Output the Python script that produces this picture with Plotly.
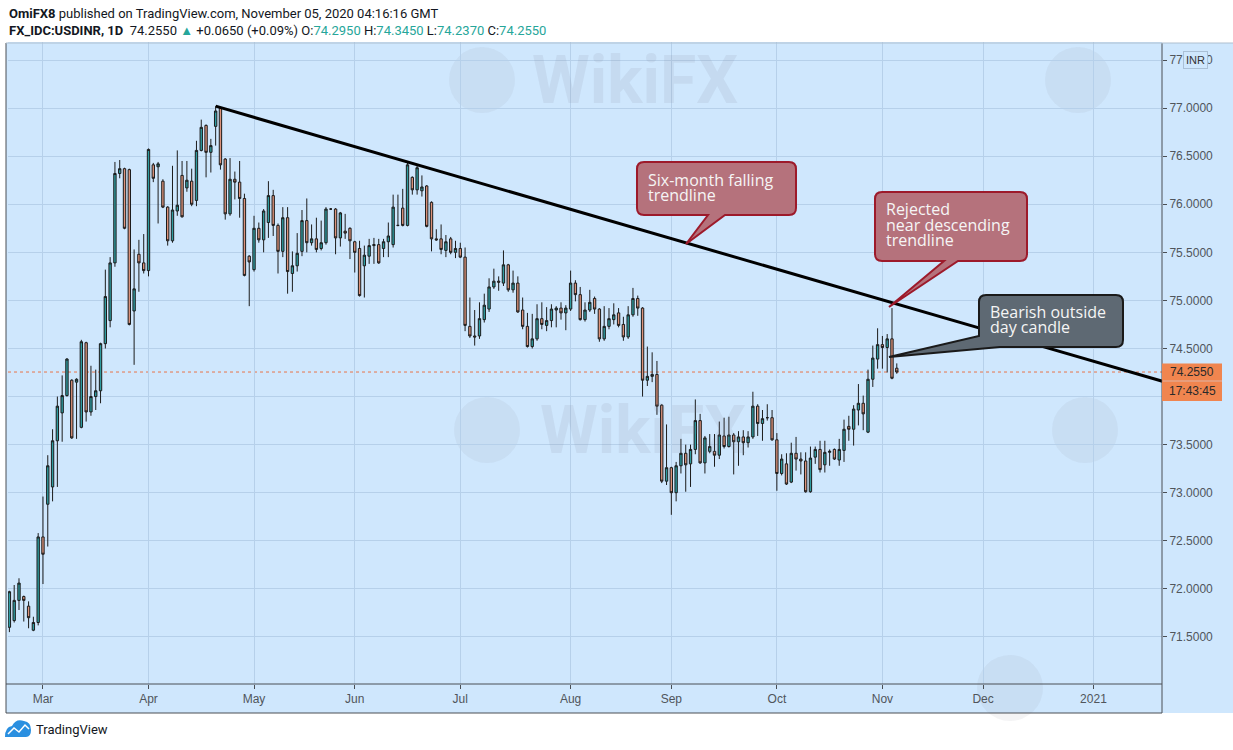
import pandas as pd
import plotly.graph_objects as go

# ---------------- data ----------------
dates = pd.bdate_range("2020-02-20", "2020-11-05")

opens = [71.60, 71.67, 71.88, 71.92, 71.82, 71.57, 71.65, 72.54, 72.88, 73.06,
         73.54, 73.83, 74.01, 74.17, 74.15, 73.68, 74.56, 73.84, 74.00, 74.06,
         74.55, 74.79, 75.39, 76.32, 76.37, 76.36, 74.89, 75.48, 75.39, 75.31,
         76.41, 76.39, 76.24, 75.97, 75.62, 75.93, 76.30, 76.17, 76.24, 76.04,
         76.56, 76.82, 76.54, 76.81, 77.00, 76.47, 75.90, 76.26, 76.23, 76.06,
         75.46, 75.32, 75.75, 75.63, 75.81, 76.09, 75.78, 75.51, 75.86, 75.28,
         75.36, 75.51, 75.83, 75.60, 75.64, 75.54, 75.60, 75.95, 75.95, 75.65,
         75.72, 75.75, 75.61, 75.54, 75.36, 75.46, 75.57, 75.58, 75.54, 75.61,
         75.58, 75.78, 75.96, 75.78, 76.28, 76.15, 76.14, 76.19, 76.02, 75.64,
         75.64, 75.52, 75.64, 75.50, 75.54, 75.45, 74.73, 74.63, 74.63, 74.80,
         74.91, 75.14, 75.20, 75.18, 75.37, 75.11, 75.18, 74.90, 74.73, 74.52,
         74.60, 74.81, 74.74, 74.79, 74.90, 74.92, 74.87, 74.91, 75.18, 75.06,
         74.80, 74.90, 75.02, 74.91, 74.60, 74.73, 74.80, 74.87, 74.75, 74.62,
         74.85, 75.02, 74.92, 74.17, 74.21, 74.23, 73.91, 73.12, 73.26, 73.00,
         73.28, 73.41, 73.30, 73.45, 73.75, 73.31, 73.43, 73.43, 73.39, 73.59,
         73.48, 73.60, 73.53, 73.58, 73.52, 73.58, 73.90, 73.72, 73.78, 73.78,
         73.55, 73.20, 73.30, 73.11, 73.41, 73.35, 73.33, 73.01, 73.37, 73.45,
         73.29, 73.42, 73.45, 73.34, 73.44, 73.69, 73.66, 73.86, 73.93, 73.63,
         74.18, 74.39, 74.54, 74.51, 74.60, 74.295]
highs = [71.98, 72.04, 72.11, 71.93, 71.87, 71.71, 72.58, 72.96, 73.39, 73.66,
         74.00, 74.22, 74.40, 74.18, 74.19, 74.59, 74.57, 74.32, 74.28, 74.56,
         75.32, 75.45, 76.44, 76.46, 76.38, 76.37, 75.53, 75.63, 75.69, 76.58,
         76.43, 76.44, 76.26, 75.98, 76.40, 76.56, 76.45, 76.45, 76.37, 76.66,
         76.88, 76.83, 76.68, 77.02, 77.01, 76.48, 76.48, 76.34, 76.45, 76.11,
         75.47, 75.88, 75.81, 75.95, 76.24, 76.15, 75.80, 75.97, 75.97, 75.51,
         75.70, 75.94, 76.06, 75.79, 75.86, 75.83, 75.97, 75.96, 75.96, 75.92,
         75.90, 75.76, 75.62, 75.62, 75.57, 75.64, 75.65, 75.64, 75.64, 75.81,
         76.10, 76.10, 76.16, 76.43, 76.29, 76.40, 76.30, 76.20, 76.03, 75.74,
         75.79, 75.68, 75.66, 75.62, 75.60, 75.55, 75.03, 74.90, 74.98, 75.07,
         75.23, 75.33, 75.25, 75.52, 75.38, 75.31, 75.25, 75.03, 74.87, 74.86,
         74.96, 74.98, 74.93, 74.96, 74.94, 74.98, 74.95, 75.31, 75.21, 75.14,
         74.98, 75.11, 75.04, 74.92, 74.94, 74.92, 74.97, 74.92, 74.83, 74.94,
         75.13, 75.05, 74.93, 74.52, 74.46, 74.37, 73.92, 73.71, 73.27, 73.32,
         73.56, 73.50, 73.50, 73.97, 73.82, 73.59, 73.61, 73.61, 73.74, 73.78,
         73.79, 73.62, 73.64, 73.65, 73.64, 74.05, 73.92, 73.86, 73.92, 73.86,
         73.62, 73.40, 73.41, 73.52, 73.58, 73.42, 73.42, 73.48, 73.48, 73.54,
         73.54, 73.45, 73.46, 73.56, 73.76, 73.80, 73.91, 74.13, 74.01, 74.28,
         74.53, 74.71, 74.63, 74.65, 74.92, 74.345]
lows = [71.55, 71.65, 71.78, 71.66, 71.59, 71.56, 71.62, 72.05, 72.44, 72.91,
        73.06, 73.53, 74.00, 73.56, 73.56, 73.67, 73.74, 73.80, 73.86, 73.93,
        74.50, 74.72, 75.35, 76.27, 75.74, 74.74, 74.33, 75.09, 75.28, 75.25,
        76.23, 75.80, 75.96, 75.57, 75.60, 75.88, 75.86, 76.13, 75.98, 75.98,
        76.55, 76.28, 76.33, 76.61, 76.36, 75.84, 75.88, 76.05, 75.86, 75.25,
        74.94, 75.30, 75.60, 75.50, 75.65, 75.67, 75.28, 75.45, 75.07, 75.09,
        75.30, 75.46, 75.50, 75.57, 75.50, 75.52, 75.58, 75.94, 75.48, 75.56,
        75.64, 75.43, 75.29, 75.04, 75.03, 75.38, 75.38, 75.38, 75.45, 75.45,
        75.55, 75.77, 75.77, 75.77, 76.10, 76.10, 76.08, 75.76, 75.51, 75.62,
        75.48, 75.45, 75.48, 75.44, 75.44, 74.68, 74.61, 74.53, 74.60, 74.77,
        74.88, 75.12, 75.10, 75.15, 75.09, 75.08, 74.87, 74.70, 74.51, 74.50,
        74.58, 74.70, 74.68, 74.72, 74.72, 74.80, 74.69, 74.89, 74.99, 74.79,
        74.78, 74.88, 74.86, 74.57, 74.58, 74.70, 74.75, 74.72, 74.58, 74.60,
        74.83, 74.84, 74.00, 74.11, 74.15, 73.81, 73.10, 73.08, 72.77, 72.91,
        73.20, 73.01, 73.06, 73.40, 73.30, 73.20, 73.41, 73.27, 73.35, 73.46,
        73.47, 73.19, 73.28, 73.39, 73.47, 73.56, 73.59, 73.54, 73.75, 73.54,
        73.02, 73.18, 73.08, 73.10, 73.23, 73.19, 73.00, 73.00, 73.30, 73.21,
        73.21, 73.28, 73.34, 73.28, 73.32, 73.54, 73.49, 73.70, 73.65, 73.62,
        74.10, 74.29, 74.29, 74.25, 74.18, 74.237]
closes = [71.97, 71.88, 72.06, 71.88, 71.70, 71.65, 72.54, 72.36, 73.28, 73.54,
          73.90, 74.01, 74.39, 73.57, 74.18, 74.57, 73.84, 74.00, 74.06, 74.55,
          75.04, 75.39, 76.32, 76.37, 75.75, 74.75, 75.12, 75.39, 75.31, 76.57,
          76.27, 76.42, 75.97, 75.62, 75.94, 75.99, 75.87, 76.25, 76.00, 76.56,
          76.80, 76.54, 76.61, 76.97, 76.41, 75.90, 76.26, 76.23, 76.06, 75.26,
          75.40, 75.75, 75.63, 75.93, 76.09, 75.78, 75.51, 75.86, 75.30, 75.36,
          75.49, 75.83, 75.60, 75.64, 75.53, 75.60, 75.95, 75.95, 75.65, 75.91,
          75.70, 75.62, 75.50, 75.05, 75.47, 75.57, 75.58, 75.39, 75.61, 75.67,
          75.97, 75.78, 75.78, 76.41, 76.15, 76.38, 76.18, 75.77, 75.64, 75.63,
          75.53, 75.61, 75.50, 75.54, 75.45, 74.74, 74.63, 74.62, 74.81, 74.95,
          75.14, 75.20, 75.19, 75.37, 75.11, 75.18, 74.88, 74.73, 74.52, 74.60,
          74.81, 74.75, 74.79, 74.91, 74.92, 74.87, 74.92, 75.18, 75.06, 74.80,
          74.90, 74.98, 74.91, 74.60, 74.73, 74.81, 74.85, 74.74, 74.62, 74.85,
          75.02, 74.92, 74.17, 74.21, 74.23, 73.90, 73.12, 73.26, 73.00, 73.28,
          73.41, 73.29, 73.45, 73.75, 73.31, 73.57, 73.48, 73.39, 73.60, 73.48,
          73.60, 73.53, 73.58, 73.52, 73.58, 73.90, 73.72, 73.77, 73.78, 73.55,
          73.20, 73.35, 73.09, 73.41, 73.35, 73.33, 73.01, 73.36, 73.45, 73.24,
          73.42, 73.43, 73.35, 73.45, 73.66, 73.66, 73.87, 73.93, 73.82, 74.18,
          74.40, 74.54, 74.51, 74.60, 74.19, 74.255]

month_tick_dates = ["2020-03-02", "2020-04-01", "2020-05-01", "2020-06-01", "2020-07-01",
                    "2020-08-03", "2020-09-01", "2020-10-01", "2020-11-02", "2020-12-01",
                    "2021-01-01"]
month_tick_labels = ["Mar", "Apr", "May", "Jun", "Jul", "Aug", "Sep", "Oct", "Nov", "Dec", "2021"]
price_ticks = [71.5, 72.0, 72.5, 73.0, 73.5, 74.0, 74.5, 75.0, 75.5, 76.0, 76.5, 77.0, 77.5]
# the 74.0000 label is hidden behind the countdown box in the reference
price_tick_labels = ["71.5000", "72.0000", "72.5000", "73.0000", "73.5000", "",
                     "74.5000", "75.0000", "75.5000", "76.0000", "76.5000", "77.0000", "77.5000"]

trend_dates = ["2020-04-21", "2021-01-22"]
trend_values = [77.02, 74.15]

callout1_lines = ["Six-month falling", "trendline"]
callout2_lines = ["Rejected", "near descending", "trendline"]
callout3_lines = ["Bearish outside", "day candle"]

countdown_text = "17:43:45"

# ---------------- geometry helpers (pixel -> paper) ----------------
FW, FH = 1233, 750
L, R, T, B = 8, 1162, 42, 684
PW, PH = R - L, B - T


def px(x):
    return (x - L) / PW


def py(y):
    return (B - y) / PH


def pt(x, y):
    return f"{px(x):.5f},{py(y):.5f}"


def rounded_path(x0, y0, x1, y1, r, bottom_insert=None, left_insert=None):
    p = f"M{pt(x0 + r, y0)} L{pt(x1 - r, y0)} Q{pt(x1, y0)} {pt(x1, y0 + r)} "
    p += f"L{pt(x1, y1 - r)} Q{pt(x1, y1)} {pt(x1 - r, y1)} "
    if bottom_insert:
        for (a, b) in bottom_insert:
            p += f"L{pt(a, b)} "
    if left_insert:
        for (a, b) in left_insert:
            p += f"L{pt(a, b)} "
        p += f"L{pt(x0, y0 + r)} Q{pt(x0, y0)} {pt(x0 + r, y0)} Z"
        return p
    p += f"L{pt(x0 + r, y1)} Q{pt(x0, y1)} {pt(x0, y1 - r)} L{pt(x0, y0 + r)} Q{pt(x0, y0)} {pt(x0 + r, y0)} Z"
    return p


BG = "#cfe7fd"
GRID = "#b6d0ea"
FRAME = "#4a4f55"
TEAL = "#26a69a"

fig = go.Figure()

fig.add_trace(go.Candlestick(
    x=dates, open=opens, high=highs, low=lows, close=closes,
    increasing=dict(line=dict(color="#1c1c1c", width=1), fillcolor="#2e9ca0"),
    decreasing=dict(line=dict(color="#1c1c1c", width=1), fillcolor="#dc927a"),
    whiskerwidth=0, showlegend=False, hoverinfo="skip",
))

fig.add_trace(go.Scatter(
    x=trend_dates, y=trend_values, mode="lines",
    line=dict(color="#000000", width=3), showlegend=False, hoverinfo="skip",
))

last_close = closes[-1]
prev_close = closes[-2]
chg = last_close - prev_close
pct = chg / prev_close * 100

shapes = []
# chart panel background incl. axis strips
shapes.append(dict(type="rect", xref="paper", yref="paper", layer="below",
                   x0=px(6), x1=px(FW + 2), y0=py(713), y1=py(43),
                   fillcolor=BG, line=dict(width=0)))
# frame lines
for (x0, y0, x1, y1, c) in [(6, 43, 6, 713, FRAME), (6, 684, 1162, 684, FRAME),
                            (6, 713, 1162, 713, FRAME), (1162, 43, 1162, 713, FRAME),
                            (6, 43, FW, 43, "#aebfcf")]:
    shapes.append(dict(type="line", xref="paper", yref="paper", x0=px(x0), x1=px(x1),
                       y0=py(y0), y1=py(y1), line=dict(color=c, width=1), layer="above"))
# last price dotted line
shapes.append(dict(type="line", xref="paper", yref="y", x0=0, x1=1, y0=last_close, y1=last_close,
                   line=dict(color="#e8744a", width=1, dash="dot"), layer="below"))
# price + countdown labels on the axis
shapes.append(dict(type="rect", xref="paper", yref="y", x0=1.0, x1=px(1222),
                   y0=last_close - 0.09, y1=last_close + 0.088,
                   fillcolor="#f0854f", line=dict(width=0), layer="above"))
shapes.append(dict(type="rect", xref="paper", yref="y", x0=1.0, x1=px(1222),
                   y0=last_close - 0.30, y1=last_close - 0.097,
                   fillcolor="#f0854f", line=dict(width=0), layer="above"))

# callouts
shapes.append(dict(type="path", xref="paper", yref="paper", layer="above",
                   path=rounded_path(637, 162, 796, 215, 7,
                                     bottom_insert=[(725, 215), (686, 244), (708, 215)]),
                   fillcolor="#b5727c", line=dict(color="#9d1a2b", width=2)))
shapes.append(dict(type="path", xref="paper", yref="paper", layer="above",
                   path=rounded_path(875, 192, 1027, 261, 7,
                                     bottom_insert=[(958, 261), (889, 307), (944, 261)]),
                   fillcolor="#b5727c", line=dict(color="#9d1a2b", width=2)))
shapes.append(dict(type="path", xref="paper", yref="paper", layer="above",
                   path=rounded_path(979, 295, 1123, 347, 7,
                                     left_insert=[(1000, 347), (889, 357), (979, 336)]),
                   fillcolor="#5e6973", line=dict(color="#1a1a1a", width=2)))

# watermark logos (faint)
for (cx, cy) in [(482, 80), (1078, 80), (487, 430), (1085, 430), (1010, 688)]:
    shapes.append(dict(type="circle", xref="paper", yref="paper", layer="below",
                       x0=px(cx - 33), x1=px(cx + 33), y0=py(cy + 33), y1=py(cy - 33),
                       fillcolor="rgba(130,130,140,0.09)", line=dict(width=0)))

# TradingView logo icon
shapes.append(dict(type="path", xref="paper", yref="paper", layer="above",
                   path=f"M{pt(5, 737)} Q{pt(5, 727)} {pt(12, 726)} Q{pt(16, 718)} {pt(24, 721)} "
                        f"Q{pt(31, 722)} {pt(31, 730)} Q{pt(31, 737)} {pt(26, 737)} Z",
                   fillcolor="#2a8fe0", line=dict(width=0)))
shapes.append(dict(type="path", xref="paper", yref="paper", layer="above",
                   path=f"M{pt(8, 734)} L{pt(14, 728)} L{pt(19, 732)} L{pt(25, 725)} L{pt(29, 729)}",
                   line=dict(color="white", width=1.5)))

annotations = []
# header
annotations.append(dict(xref="paper", yref="paper", x=px(7), y=py(13), xanchor="left", yanchor="middle",
                        showarrow=False, align="left",
                        font=dict(family="Roboto", size=13, color="#131722"),
                        text="<b>OmiFX8</b> published on TradingView.com, November 05, 2020 04:16:16 GMT"))
val = lambda v: f"<span style='color:{TEAL}'>{v:.4f}</span>"
hdr2 = (f"<b>FX_IDC:USDINR, 1D</b>  {last_close:.4f} <span style='color:{TEAL}'>▲</span> "
        f"+{chg:.4f} (+{pct:.2f}%) O:{val(opens[-1])} H:{val(highs[-1])} "
        f"L:{val(lows[-1])} C:{val(closes[-1])}")
annotations.append(dict(xref="paper", yref="paper", x=px(7), y=py(30), xanchor="left", yanchor="middle",
                        showarrow=False, align="left",
                        font=dict(family="Roboto", size=13, color="#131722"), text=hdr2))
# footer
annotations.append(dict(xref="paper", yref="paper", x=px(34), y=py(729), xanchor="left", yanchor="middle",
                        showarrow=False, font=dict(family="Roboto", size=13, color="#131722"),
                        text="TradingView"))
# axis labels on orange boxes
annotations.append(dict(xref="paper", yref="y", x=px(1192), y=last_close, xanchor="center",
                        yanchor="middle", showarrow=False,
                        font=dict(family="Liberation Sans", size=12, color="#2a2a2a"),
                        text=f"{last_close:.4f}"))
annotations.append(dict(xref="paper", yref="y", x=px(1192), y=last_close - 0.1985, xanchor="center",
                        yanchor="middle", showarrow=False,
                        font=dict(family="Liberation Sans", size=12, color="#2a2a2a"),
                        text=countdown_text))
annotations.append(dict(xref="paper", yref="paper", x=px(1195), y=py(60), xanchor="center",
                        yanchor="middle", showarrow=False, bgcolor=BG, bordercolor="#aac0d6",
                        borderwidth=1, borderpad=2,
                        font=dict(family="Liberation Sans", size=11, color="#333"), text="INR"))

# callout texts
def add_lines(lines, x, y_first, step=15.7):
    for i, s in enumerate(lines):
        annotations.append(dict(xref="paper", yref="paper", x=px(x), y=py(y_first + i * step),
                                xanchor="left", yanchor="middle", showarrow=False,
                                font=dict(family="Open Sans", size=16, color="#f5f5f5"), text=s))


add_lines(callout1_lines, 646, 179.5)
add_lines(callout2_lines, 884, 209)
add_lines(callout3_lines, 988, 311.5)

# watermark texts (faint, kept clear of axis labels)
for (x, y) in [(530, 80), (538, 430)]:
    annotations.append(dict(xref="paper", yref="paper", x=px(x), y=py(y), xanchor="left",
                            yanchor="middle", showarrow=False,
                            font=dict(family="Roboto", size=66, color="rgba(120,120,135,0.11)"),
                            text="<b>WikiFX</b>"))

fig.update_layout(
    width=FW, height=FH, autosize=False,
    margin=dict(l=L, r=FW - R, t=T, b=FH - B, pad=0),
    paper_bgcolor="white", plot_bgcolor=BG,
    shapes=shapes, annotations=annotations,
    showlegend=False, hovermode=False,
    font=dict(family="Liberation Sans", size=12, color="#4a4a4a"),
)
fig.update_xaxes(
    type="date", range=["2020-02-19 17:00", "2021-01-21 07:00"],
    rangebreaks=[dict(bounds=["sat", "mon"])],
    rangeslider=dict(visible=False),
    tickvals=month_tick_dates, ticktext=month_tick_labels,
    ticks="outside", ticklen=4, tickcolor=FRAME,
    showgrid=True, gridcolor=GRID, gridwidth=1,
    showline=False, zeroline=False,
    tickfont=dict(family="Liberation Sans", size=12, color="#50555b"),
)
fig.update_yaxes(
    side="right", range=[71.0104, 77.6875],
    tickvals=price_ticks, ticktext=price_tick_labels,
    ticks="outside", ticklen=4, tickcolor=FRAME,
    showgrid=True, gridcolor=GRID, gridwidth=1,
    showline=False, zeroline=False,
    tickfont=dict(family="Liberation Sans", size=12, color="#50555b"),
)

fig.write_html("out.html", config={"displayModeBar": False},
               post_script="document.body.style.margin='0';")
